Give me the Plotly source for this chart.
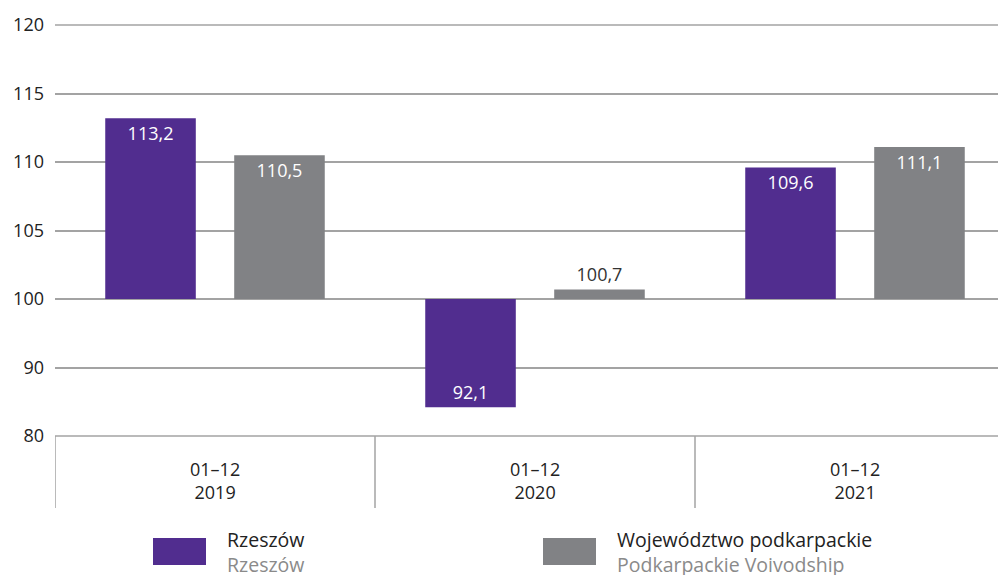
import plotly.graph_objects as go

# Data
periods = ["01–12<br>2019", "01–12<br>2020", "01–12<br>2021"]
rzeszow = [113.2, 92.1, 109.6]
podkarpackie = [110.5, 100.7, 111.1]
series_names = ["Rzeszów", "Województwo podkarpackie"]
series_names_en = ["Rzeszów", "Podkarpackie Voivodship"]
tick_vals = [90, 95, 100, 105, 110, 115, 120]
tick_text = ["80", "90", "100", "105", "110", "115", "120"]

BASE = 100
PURPLE = "#512D8F"
GRAY = "#818285"
GRID = "#A3A3A3"
FONT = "Open Sans"

# page offset (body margin) compensation
OFF = 8
W, H = 1006 - OFF, 575 - OFF
PL, PT, PH = 55 - OFF, 25 - OFF, 411
PW = W - PL

x = list(range(len(periods)))

def fmt(v):
    return f"{v:.1f}".replace(".", ",")

def py(ypix):
    # reference pixel y -> paper y
    return (436 - ypix) / PH

def px(xpix):
    return (xpix - 55) / PW

fig = go.Figure()
fig.add_trace(go.Bar(
    x=x, y=[v - BASE for v in rzeszow], base=BASE,
    width=0.283, offset=-0.343,
    marker=dict(color=PURPLE, line=dict(width=0)),
    text=[fmt(v) for v in rzeszow],
    textposition="inside", insidetextanchor="end",
    textfont=dict(color="white", size=18, family=FONT),
    textangle=0, cliponaxis=False, name=series_names[0],
))
fig.add_trace(go.Bar(
    x=x, y=[v - BASE for v in podkarpackie], base=BASE,
    width=0.283, offset=0.06,
    marker=dict(color=GRAY, line=dict(width=0)),
    text=[fmt(v) for v in podkarpackie],
    textposition=["inside" if abs(v - BASE) > 2 else "outside" for v in podkarpackie],
    insidetextanchor="end",
    insidetextfont=dict(color="white", size=18, family=FONT),
    outsidetextfont=dict(color="#333333", size=18, family=FONT),
    textangle=0, cliponaxis=False, name=series_names[1],
))

# table lines below the plot
fig.add_shape(type="line", xref="paper", yref="paper", x0=0, x1=1, y0=0, y1=0,
              line=dict(color=GRID, width=1.5))
fig.add_shape(type="line", xref="paper", yref="paper", x0=0, x1=1, y0=1, y1=1,
              line=dict(color=GRID, width=1.5))
for xv in [-0.5, 0.5, 1.5]:
    fig.add_shape(type="line", xref="x", yref="paper", x0=xv, x1=xv, y0=0, y1=py(508),
                  line=dict(color=GRID, width=1.5))
for i, p in enumerate(periods):
    fig.add_annotation(x=i, xref="x", y=py(480), yref="paper",
                       text=p, showarrow=False, yanchor="middle",
                       font=dict(size=18, color="#222222", family=FONT))

# manual legend
leg = [(153, 206, PURPLE, 0), (543, 596, GRAY, 1)]
for x0, x1, col, k in leg:
    fig.add_shape(type="rect", xref="paper", yref="paper",
                  x0=px(x0), x1=px(x1), y0=py(565), y1=py(538),
                  line=dict(width=0), fillcolor=col)
    fig.add_annotation(x=px(x1 + 19), xref="paper", y=py(539), yref="paper",
                       text=series_names[k], showarrow=False, xanchor="left", yanchor="middle",
                       font=dict(size=19.5, color="#222222", family=FONT))
    fig.add_annotation(x=px(x1 + 19), xref="paper", y=py(564), yref="paper",
                       text=series_names_en[k], showarrow=False, xanchor="left", yanchor="middle",
                       font=dict(size=19.5, color="#8A8A8A", family=FONT))

fig.update_layout(
    width=W, height=H,
    margin=dict(l=PL, r=0, t=PT, b=H - PT - PH, pad=0),
    paper_bgcolor="white", plot_bgcolor="white",
    barmode="overlay", showlegend=False,
    font=dict(family=FONT, size=18, color="#222222"),
)
fig.update_xaxes(range=[-0.5, -0.5 + PW / 320], showticklabels=False, showgrid=False,
                 zeroline=False, showline=False, ticks="")
fig.update_yaxes(range=[90, 120], tickvals=tick_vals, ticktext=tick_text,
                 showgrid=True, gridcolor=GRID, gridwidth=1.5, zeroline=False,
                 showline=False, ticks="", ticklabelstandoff=10,
                 tickfont=dict(size=18, color="#222222", family=FONT))

fig.write_html("out.html")
